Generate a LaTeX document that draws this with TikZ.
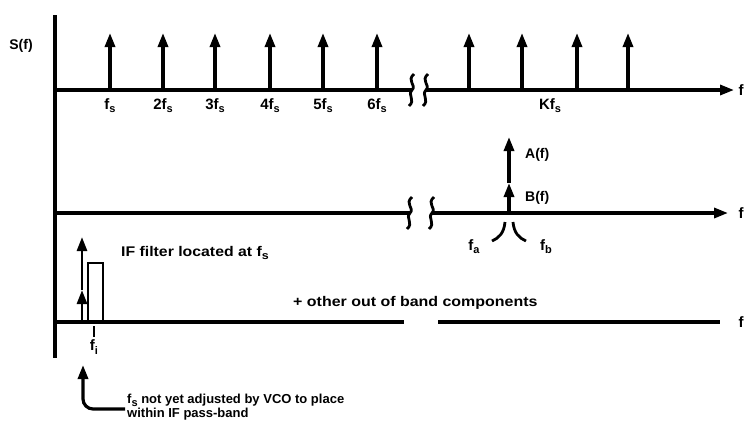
\documentclass[tikz,border=0pt]{standalone}
\usepackage{fontspec}
\setmainfont{Liberation Sans}
\usepackage{graphicx}
\usetikzlibrary{arrows.meta}
\newcommand\subs[1]{\raisebox{-0.4ex}{\fontsize{11}{11}\selectfont #1}}
\newcommand\hs[2]{\scalebox{#1}[1]{#2}}
\tikzset{
  axisline/.style={line width=3.2pt},
  tip/.tip={Triangle[length=14pt,width=10pt]},
  spike/.style={line width=3.2pt,-tip},
  lbl/.style={font=\fontsize{15}{16}\selectfont\bfseries, inner sep=0pt},
  txt/.style={font=\fontsize{14}{15}\selectfont\bfseries, inner sep=0pt, anchor=west},
  brk/.pic={\draw[line width=2.8pt] (2,-16) .. controls (-6,-9) and (5,-5) .. (0,0) .. controls (-5,5) and (4,10) .. (-3,16);}
}
\begin{document}
\begin{tikzpicture}[x=1pt,y=-1pt]
\useasboundingbox (0,0) rectangle (746,426);
% vertical axis
\coordinate (vt) at (55,15);
\coordinate (vb) at (55,358);
\draw[axisline] (vt) -- (vb);
\node[lbl,font=\fontsize{14}{15}\selectfont\bfseries] (S) at (21,46) {S(f)};
% ---------- top axis
\coordinate (t0) at (55,90);
\coordinate (t1) at (412,90);
\coordinate (t2) at (426,90);
\coordinate (t3) at (734,90);
\draw[axisline] (t0) -- (t1);
\draw[axisline,-tip] (t2) -- (t3);
\pic at (t1) {brk};
\pic at (t2) {brk};
\node[lbl] (tf) at (741,90) {f};
\foreach \x/\n in {110/, 163/2, 215/3, 270/4, 323/5, 377/6}{
  \draw[spike] (\x,90) -- (\x,33);
  \node[lbl] at (\x,106) {\n f\subs{s}};
}
\foreach \x in {469,522,577,628}{
  \draw[spike] (\x,90) -- (\x,33);
}
\node[lbl] (K) at (550,106) {Kf\subs{s}};
% ---------- middle axis
\coordinate (m0) at (55,213);
\coordinate (m1) at (410,213);
\coordinate (m2) at (432,213);
\coordinate (m3) at (728,213);
\draw[axisline] (m0) -- (m1);
\draw[axisline,-tip] (m2) -- (m3);
\pic at (m1) {brk};
\pic at (m2) {brk};
\node[lbl] (mf) at (741,213) {f};
\coordinate (ab) at (509,213);
\coordinate (bt) at (509,183);
\coordinate (at) at (509,137);
\draw[spike] (ab) -- (bt);
\draw[spike] (bt) -- (at);
\node[txt] (A) at (525,155) {A(f)};
\node[txt] (B) at (525,198) {B(f)};
\draw[line width=2.8pt] (505,222) .. controls (504,233) and (499,238) .. (492,241);
\draw[line width=2.8pt] (513,222) .. controls (514,233) and (519,238) .. (526,241);
\node[lbl] (fa) at (474,247) {f\subs{a}};
\node[lbl] (fb) at (546,247) {f\subs{b}};
% ---------- bottom axis
\coordinate (b0) at (55,322);
\coordinate (b1) at (404,322);
\coordinate (b2) at (438,322);
\coordinate (b3) at (720,322);
\draw[axisline] (b0) -- (b1);
\draw[axisline] (b2) -- (b3);
\node[lbl] (bf) at (741,322) {f};
\draw[line width=2.6pt] (88,322) -- (88,263) -- (103,263) -- (103,322);
\coordinate (ib) at (82,322);
\coordinate (im) at (82,290);
\coordinate (it) at (82,237);
\draw[spike,line width=2.8pt] (ib) -- (im);
\draw[spike,line width=2.8pt] (im) -- (it);
\draw[line width=2.8pt] (94,326) -- (94,337);
\node[lbl] (fi) at (94,347) {f\subs{i}};
\node[txt] (IF) at (121,253) {\hs{1.13}{IF filter located at f\subs{s}}};
\node[txt] (oob) at (293,303) {\hs{1.14}{+ other out of band components}};
% ---------- note
\coordinate (ne) at (125,409);
\coordinate (nt) at (83,365);
\draw[spike,rounded corners=10pt] (ne) -| (nt);
\node[txt,font=\fontsize{13}{14}\selectfont\bfseries] (note1) at (127,400) {f\subs{s} not yet adjusted by VCO to place};
\node[txt,font=\fontsize{13}{14}\selectfont\bfseries] (note2) at (127,414) {within IF pass-band};
\end{tikzpicture}
\end{document}
